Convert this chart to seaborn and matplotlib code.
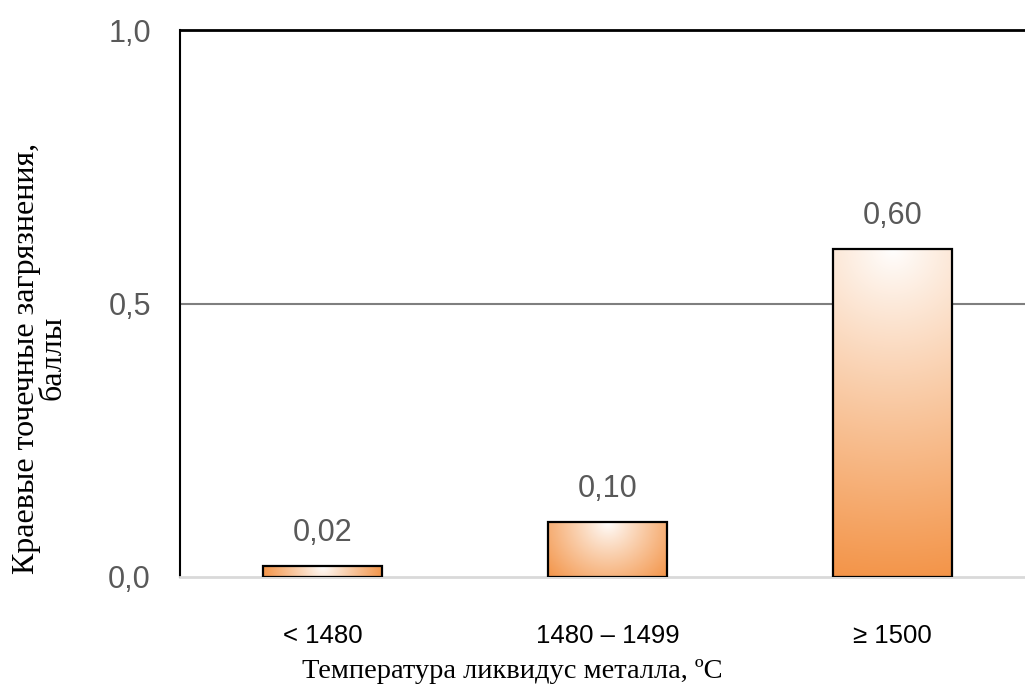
import numpy as np
import pandas as pd
import matplotlib
matplotlib.use("Agg")
import matplotlib.pyplot as plt
import seaborn as sns

categories = ["< 1480", "1480 – 1499", "≥ 1500"]
values = [0.02, 0.10, 0.60]
value_labels = ["0,02", "0,10", "0,60"]
ytick_vals = [0.0, 0.5, 1.0]
ytick_labels = ["0,0", "0,5", "1,0"]
xlabel = "Температура ликвидус металла, ºС"
ylabel = "Краевые точечные загрязнения,\nбаллы"

sns.set_theme(style="white")
plt.rcParams["font.family"] = ["Liberation Sans", "DejaVu Sans"]

W, H = 1025, 695
fig = plt.figure(figsize=(W / 100, H / 100), dpi=100)
ax_left, ax_bottom, ax_w, ax_h = 180 / W, 118 / H, 855 / W, 547 / H
ax = fig.add_axes([ax_left, ax_bottom, ax_w, ax_h])

df = pd.DataFrame({"cat": categories, "val": values})
sns.barplot(data=df, x="cat", y="val", ax=ax, width=0.42, color="white",
            edgecolor="black", linewidth=1.6, zorder=3)

ax.set_xlim(-0.5, 2.5)
ax.set_ylim(0, 1.0)

# gradient fills
px_x = 855 / 3.0
px_y = 547 / 1.0
orange = np.array([243, 148, 72]) / 255.0
white = np.array([1.0, 1.0, 1.0])
for p in ax.patches:
    x0, w, h = p.get_x(), p.get_width(), p.get_height()
    if h <= 0:
        continue
    nx, ny = 200, 200
    xs = np.linspace(x0, x0 + w, nx)
    ys = np.linspace(0, h, ny)
    X, Y = np.meshgrid(xs, ys)
    cx = x0 + w / 2
    dx = (X - cx) * px_x
    dy = (h - Y) * px_y
    hw = w / 2 * px_x
    hh = h * px_y
    dmax = np.sqrt(hw ** 2 + hh ** 2)
    t = np.clip(np.sqrt(dx ** 2 + dy ** 2) / dmax, 0, 1)
    t = t ** 0.9
    img = white[None, None, :] * (1 - t[..., None]) + orange[None, None, :] * t[..., None]
    im = ax.imshow(img, extent=[x0, x0 + w, 0, h], origin="lower",
                   aspect="auto", zorder=2.5, interpolation="bilinear")
    im.set_clip_path(p)
    p.set_facecolor("none")
ax.set_xlim(-0.5, 2.5)
ax.set_ylim(0, 1.0)

for i, (v, lab) in enumerate(zip(values, value_labels)):
    ax.annotate(lab, (i, v), xytext=(0, 13), textcoords="offset points",
                ha="center", va="bottom", fontsize=22, color="#595959")

# grid / spines
ax.axhline(0.5, color="#7f7f7f", lw=1.5, zorder=1)
ax.spines["right"].set_visible(False)
ax.spines["top"].set_color("black")
ax.spines["top"].set_linewidth(2.0)
ax.spines["left"].set_color("black")
ax.spines["left"].set_linewidth(1.5)
ax.spines["bottom"].set_color("#d9d9d9")
ax.spines["bottom"].set_linewidth(2.0)

ax.set_yticks(ytick_vals)
ax.set_yticklabels(ytick_labels)
ax.tick_params(axis="y", length=0, pad=21, labelsize=22, labelcolor="#595959")
ax.tick_params(axis="x", length=0, pad=34, labelsize=18.5, labelcolor="black")
ax.set_xlabel("")
ax.set_ylabel("")

serif = ["Liberation Serif", "DejaVu Serif"]
fig.text(512 / W, 1 - 672 / H, xlabel, fontsize=20.5, family=serif,
         color="black", ha="center", va="center")
fig.text(40 / W, 1 - 358 / H, ylabel, fontsize=23, family=serif,
         color="black", ha="center", va="center", rotation=90,
         multialignment="center", linespacing=0.9)

fig.savefig("out.png", dpi=100)
